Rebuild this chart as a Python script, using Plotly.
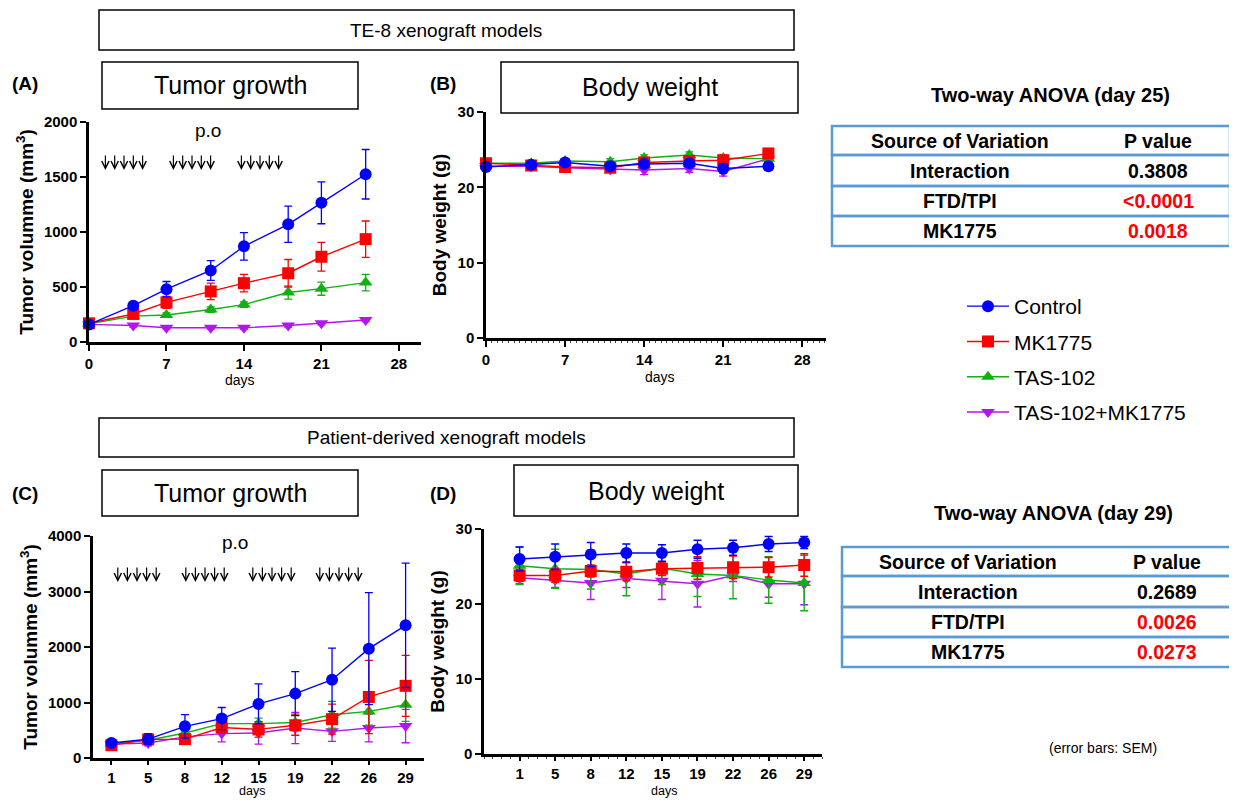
import plotly.graph_objects as go

# page body has an 8px margin: keep the figure inside the window
OX, OY = 8, 8
W, H = 1237 - 2 * OX, 806 - 2 * OY
def px(x): return (x - OX) / W
def py(y): return 1 - (y - OY) / H

FONT = "Liberation Sans, Arial, sans-serif"
NARROW = "Liberation Sans Narrow, Liberation Sans, Arial, sans-serif"

series = ["Control", "MK1775", "TAS-102", "TAS-102+MK1775"]
colors = {"Control": "#0000ff", "MK1775": "#ff0000", "TAS-102": "#12b012", "TAS-102+MK1775": "#b414f0"}
symbols = {"Control": "circle", "MK1775": "square", "TAS-102": "triangle-up", "TAS-102+MK1775": "triangle-down"}

# ---- Panel A: TE-8 tumor growth ----
days_A = [0, 4, 7, 11, 14, 18, 21, 25]
tumor_A = {
    "Control":        [160, 330, 480, 650, 870, 1070, 1265, 1525],
    "MK1775":         [170, 255, 360, 460, 535, 625, 775, 935],
    "TAS-102":        [165, 235, 245, 295, 340, 450, 485, 540],
    "TAS-102+MK1775": [160, 150, 130, 130, 130, 150, 170, 200],
}
tumor_A_err = {
    "Control":        [20, 25, 70, 90, 125, 165, 190, 225],
    "MK1775":         [20, 20, 55, 75, 80, 125, 130, 165],
    "TAS-102":        [15, 15, 20, 25, 25, 60, 60, 75],
    "TAS-102+MK1775": [15, 15, 12, 12, 12, 15, 15, 15],
}

# ---- Panel B: TE-8 body weight ----
days_B = [0, 4, 7, 11, 14, 18, 21, 25]
weight_B = {
    "Control":        [22.7, 23.0, 23.3, 22.8, 23.1, 23.2, 22.5, 22.8],
    "MK1775":         [23.2, 22.9, 22.7, 22.6, 23.3, 23.5, 23.6, 24.5],
    "TAS-102":        [23.2, 23.2, 23.5, 23.4, 23.9, 24.3, 23.9, 23.8],
    "TAS-102+MK1775": [22.8, 22.8, 22.6, 22.4, 22.3, 22.5, 22.1, 23.8],
}
weight_B_err = {
    "Control":        [0.3, 0.3, 0.3, 0.4, 0.4, 0.5, 0.6, 0.5],
    "MK1775":         [0.3, 0.3, 0.3, 0.4, 0.4, 0.4, 0.4, 0.3],
    "TAS-102":        [0.3, 0.3, 0.3, 0.4, 0.4, 0.4, 0.4, 0.3],
    "TAS-102+MK1775": [0.3, 0.3, 0.4, 0.4, 0.6, 0.5, 0.6, 0.4],
}

# ---- Panel C: PDX tumor growth ----
days_CD = ["1", "5", "8", "12", "15", "19", "22", "26", "29"]
idx_CD = list(range(len(days_CD)))
tumor_C = {
    "Control":        [270, 340, 570, 710, 975, 1160, 1410, 1970, 2390],
    "MK1775":         [230, 335, 340, 550, 515, 590, 700, 1100, 1300],
    "TAS-102":        [260, 320, 450, 620, 620, 640, 780, 840, 960],
    "TAS-102+MK1775": [250, 270, 380, 440, 450, 540, 480, 540, 575],
}
tumor_C_err = {
    "Control":        [40, 100, 210, 200, 360, 395, 570, 1010, 1120],
    "MK1775":         [30, 60, 60, 100, 140, 180, 270, 660, 550],
    "TAS-102":        [30, 60, 80, 100, 100, 150, 240, 250, 300],
    "TAS-102+MK1775": [30, 50, 80, 150, 200, 280, 180, 250, 300],
}

# ---- Panel D: PDX body weight ----
weight_D = {
    "Control":        [26.0, 26.3, 26.6, 26.8, 26.8, 27.3, 27.5, 28.0, 28.2],
    "MK1775":         [23.8, 23.8, 24.4, 24.3, 24.7, 24.8, 24.9, 24.9, 25.2],
    "TAS-102":        [25.1, 24.7, 24.6, 24.0, 24.8, 24.0, 23.8, 23.2, 22.8],
    "TAS-102+MK1775": [23.5, 23.2, 22.8, 23.4, 23.1, 22.7, 23.8, 22.7, 22.7],
}
weight_D_err = {
    "Control":        [1.6, 1.7, 1.6, 1.2, 1.1, 1.2, 1.0, 1.0, 0.8],
    "MK1775":         [0.8, 0.9, 0.8, 1.2, 0.9, 1.5, 1.5, 1.3, 1.5],
    "TAS-102":        [2.5, 2.6, 2.6, 2.9, 2.2, 3.0, 3.1, 3.1, 3.7],
    "TAS-102+MK1775": [0.8, 1.0, 2.2, 1.2, 2.5, 3.1, 0.8, 1.8, 2.8],
}

anova_rows = ["Interaction", "FTD/TPI", "MK1775"]
anova_p_day25 = ["0.3808", "<0.0001", "0.0018"]
anova_p_day29 = ["0.2689", "0.0026", "0.0273"]
anova_sig_day25 = [False, True, True]
anova_sig_day29 = [False, True, True]

fig = go.Figure()

draw_order = ["TAS-102+MK1775", "TAS-102", "MK1775", "Control"]
rank = {s: i + 1 for i, s in enumerate(series)}

panels = [
    ("x", "y", days_A, tumor_A, tumor_A_err, True),
    ("x2", "y2", days_B, weight_B, weight_B_err, False),
    ("x3", "y3", idx_CD, tumor_C, tumor_C_err, False),
    ("x4", "y4", idx_CD, weight_D, weight_D_err, False),
]
for xa, ya, xs, vals, errs, show in panels:
    for s in draw_order:
        fig.add_trace(go.Scatter(
            x=xs, y=vals[s], xaxis=xa, yaxis=ya,
            mode="lines+markers", name=s, legendgroup=s, showlegend=show,
            legendrank=rank[s], cliponaxis=False,
            line=dict(color=colors[s], width=1.4),
            marker=dict(symbol=symbols[s], size=12, color=colors[s]),
            error_y=dict(type="data", array=errs[s], visible=True,
                         color=colors[s], thickness=1.3, width=4),
        ))

axis_common = dict(showline=True, linecolor="black", linewidth=2.5, ticks="outside",
                   tickwidth=2, tickcolor="black", showgrid=False, zeroline=False,
                   automargin=False,
                   tickfont=dict(family=FONT, size=15, color="black", weight="bold"))
ytitle_font = dict(family=FONT, size=19, color="black", weight="bold")

fig.update_layout(
    xaxis=dict(domain=[px(89), px(421)], range=[0, 30], anchor="y", tickvals=[0, 7, 14, 21, 28],
               ticklen=6, **axis_common),
    yaxis=dict(domain=[py(342), py(122)], range=[0, 2000], anchor="x", dtick=500, ticklen=6,
               title=dict(text="Tumor volumme (mm<sup>3</sup>)", font=ytitle_font, standoff=6), **axis_common),
    xaxis2=dict(domain=[px(486), px(826)], range=[0, 30.1], anchor="y2", tickvals=[0, 7, 14, 21, 28],
                ticklen=6, minor=dict(ticks="outside", ticklen=2, tickwidth=1, dtick=0.5, tickcolor="#444"),
                **axis_common),
    yaxis2=dict(domain=[py(338), py(112)], range=[0, 30], anchor="x2", dtick=10, ticklen=6,
                title=dict(text="Body weight (g)", font=ytitle_font, standoff=6), **axis_common),
    xaxis3=dict(domain=[px(93), px(424)], range=[-0.5, 8.5], anchor="y3", tickvals=idx_CD, ticktext=days_CD,
                ticklen=4, **axis_common),
    yaxis3=dict(domain=[py(758), py(536)], range=[0, 4000], anchor="x3", dtick=1000, ticklen=6,
                title=dict(text="Tumor volumme (mm<sup>3</sup>)", font=ytitle_font, standoff=6), **axis_common),
    xaxis4=dict(domain=[px(484), px(822)], range=[-1, 8.5], anchor="y4", tickvals=idx_CD, ticktext=days_CD,
                ticklen=4, minor=dict(ticks="outside", ticklen=2, tickwidth=1, dtick=0.25, tickcolor="#444"),
                **axis_common),
    yaxis4=dict(domain=[py(754), py(529)], range=[0, 30], anchor="x4", dtick=10, ticklen=6,
                title=dict(text="Body weight (g)", font=ytitle_font, standoff=6), **axis_common),
)

shapes = []
annotations = []

def box(x0, y0, x1, y1, color="black", width=1.5):
    shapes.append(dict(type="rect", xref="paper", yref="paper", x0=px(x0), x1=px(x1),
                       y0=py(y1), y1=py(y0), line=dict(color=color, width=width), layer="above"))

def text(x, y, t, size=16, bold=False, color="black", family=FONT, xanchor="center"):
    annotations.append(dict(x=px(x), y=py(y), xref="paper", yref="paper", text=t, showarrow=False,
                            xanchor=xanchor, yanchor="middle",
                            font=dict(family=family, size=size, color=color, weight="bold" if bold else "normal")))

# section and title boxes
box(99, 10, 794, 50); text(446, 30, "TE-8 xenograft models", 19, family=NARROW)
box(102, 62, 358, 109); text(230, 85, "Tumor growth", 25, family=NARROW)
box(501, 62, 798, 113); text(650, 87, "Body weight", 25, family=NARROW)
text(25, 84, "(A)", 19, True); text(443, 84, "(B)", 19, True)

box(99, 418, 794, 457); text(446, 437, "Patient-derived xenograft models", 19, family=NARROW)
box(102, 470, 358, 516); text(230, 493, "Tumor growth", 25, family=NARROW)
box(514, 465, 798, 516); text(656, 491, "Body weight", 25, family=NARROW)
text(25, 493, "(C)", 19, True); text(443, 493, "(D)", 19, True)

# x-axis "days" labels
text(240, 380, "days", 14)
text(660, 377, "days", 14)
text(252, 791, "days", 12.5)
text(664, 791, "days", 12.5)

# dosing (p.o) markers
text(208, 131, "p.o", 19)
text(235, 542, "p.o", 19)
def arrows(centers, y_head, length=16, step=9.3):
    for c in centers:
        for k in range(-2, 3):
            annotations.append(dict(x=px(c + k * step), y=py(y_head), xref="paper", yref="paper", text="",
                                    showarrow=True, ax=0, ay=-length, arrowhead=5, arrowsize=1.2,
                                    arrowwidth=1.2, arrowcolor="black", standoff=0))
arrows([124, 192, 260], 170)
arrows([137, 205, 272, 339], 582, step=9.6)

# ANOVA tables
BLUE = "#5b9bd5"
TS = 19.5
def table(title, tx, ty, x0, x1, rows_y, c1, c2, pvals, sig):
    text(tx, ty, title, 20, True)
    for i in range(4):
        box(x0, rows_y[i], x1, rows_y[i + 1], color=BLUE, width=2.5)
    mids = [(rows_y[i] + rows_y[i + 1]) / 2 for i in range(4)]
    text(c1, mids[0], "Source of Variation", TS, True)
    text(c2, mids[0], "P value", TS, True)
    for i, (r, p, s) in enumerate(zip(anova_rows, pvals, sig)):
        text(c1, mids[i + 1], r, TS, True)
        text(c2, mids[i + 1], p, TS, True, color="#ff0000" if s else "black")

table("Two-way ANOVA (day 25)", 1050, 95, 832, 1230, [126, 155, 186, 216, 246], 960, 1158,
      anova_p_day25, anova_sig_day25)
table("Two-way ANOVA (day 29)", 1053, 513, 842, 1236, [547, 576, 607, 637, 667], 968, 1167,
      anova_p_day29, anova_sig_day29)

text(1103, 748, "(error bars: SEM)", 14)

fig.update_layout(
    width=W, height=H, autosize=False, margin=dict(l=0, r=0, t=0, b=0, autoexpand=False),
    paper_bgcolor="white", plot_bgcolor="white",
    shapes=shapes, annotations=annotations,
    legend=dict(x=px(962), y=py(286), xanchor="left", yanchor="top", itemwidth=42,
                font=dict(family=FONT, size=21, color="black"), tracegroupgap=5,
                bgcolor="rgba(0,0,0,0)"),
    font=dict(family=FONT),
)

fig.write_html("out.html")
